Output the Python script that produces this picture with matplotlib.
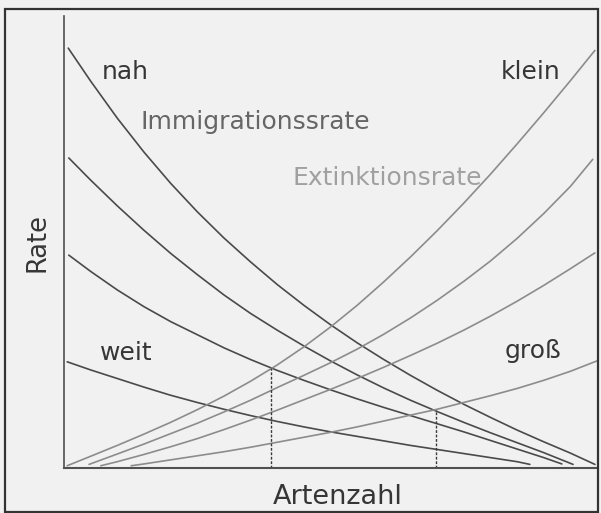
import matplotlib
matplotlib.use("Agg")
import matplotlib.pyplot as plt
from matplotlib.patches import Rectangle

# immigration curves (dark), from "nah" (top) to "weit" (bottom)
imm_nah_x = [0.8, 5, 10, 15, 20, 25, 30, 35, 40, 45, 50, 55, 60, 65, 70, 75, 80, 85, 90, 95, 99.6]
imm_nah_y = [92.9, 85.6, 77.4, 69.9, 63.0, 56.7, 50.9, 45.6, 40.6, 36.0, 31.7,
             27.7, 24.0, 20.5, 17.2, 14.1, 11.2, 8.4, 5.8, 3.3, 0.8]
imm_2_x = [0.9, 5, 10, 15, 20, 25, 30, 35, 40, 45, 50, 55, 60, 65, 70, 75, 80, 85, 90, 95.5]
imm_2_y = [68.6, 63.7, 58.0, 52.6, 47.5, 42.8, 38.3, 34.2, 30.5, 27.0, 23.7,
           20.6, 17.7, 15.0, 12.5, 10.1, 7.8, 5.6, 3.4, 0.8]
imm_3_x = [0.9, 5, 10, 15, 20, 25, 30, 35, 40, 45, 50, 55, 60, 65, 70, 75, 80, 85, 90, 93.4]
imm_3_y = [47.1, 43.5, 39.4, 35.7, 32.4, 29.5, 26.6, 24.0, 21.6, 19.4, 17.3,
           15.3, 13.4, 11.6, 9.8, 8.0, 6.1, 4.2, 2.3, 0.9]
imm_weit_x = [0.6, 5, 10, 15, 20, 25, 30, 35, 40, 45, 50, 55, 60, 65, 70, 75, 80, 85, 87.4]
imm_weit_y = [23.5, 21.7, 19.8, 17.9, 16.1, 14.5, 13.0, 11.6, 10.3, 9.1, 8.0,
              7.0, 6.0, 5.0, 4.1, 3.2, 2.3, 1.4, 0.8]

# extinction curves (light), from "klein" (top) to "groß" (bottom)
ext_klein_x = [0.6, 5, 10, 15, 20, 25, 30, 35, 40, 45, 50, 55, 60, 65, 70, 75, 80, 85, 90, 95, 99.6]
ext_klein_y = [0.5, 2.6, 5.0, 7.5, 10.1, 12.9, 15.9, 19.2, 22.8, 26.8, 31.2,
               36.0, 41.2, 46.7, 52.5, 58.6, 65.0, 71.7, 78.6, 85.7, 92.4]
ext_2_x = [4.7, 10, 15, 20, 25, 30, 35, 40, 45, 50, 55, 60, 65, 70, 75, 80, 85, 90, 95, 99.2]
ext_2_y = [0.8, 3.1, 5.3, 7.6, 9.9, 12.4, 15.0, 17.8, 20.5, 23.3, 26.3,
           29.6, 33.2, 37.1, 41.3, 45.8, 50.8, 56.3, 62.3, 68.3]
ext_3_x = [6.9, 10, 15, 20, 25, 30, 35, 40, 45, 50, 55, 60, 65, 70, 75, 80, 85, 90, 95, 99.6]
ext_3_y = [0.5, 1.4, 3.0, 4.7, 6.5, 8.5, 10.6, 12.8, 15.1, 17.4, 19.8,
           22.3, 24.9, 27.6, 30.5, 33.6, 36.9, 40.4, 44.1, 47.6]
ext_gross_x = [12.6, 15, 20, 25, 30, 35, 40, 45, 50, 55, 60, 65, 70, 75, 80, 85, 90, 95, 100]
ext_gross_y = [0.5, 0.9, 1.8, 2.7, 3.6, 4.6, 5.7, 6.8, 7.9, 9.1, 10.4,
               11.7, 13.0, 14.5, 16.0, 17.6, 19.4, 21.4, 23.7]

# equilibrium points (dashed drop lines)
eq_species = [38.8, 69.8]
eq_rate = [22.1, 12.8]

dark = "#4a4a4a"
light = "#8c8c8c"
txt = "#363636"

fig = plt.figure(figsize=(6.01, 5.13), dpi=100, facecolor="#f1f1f1")
fig.patches.append(Rectangle((0.009, 0.002), 0.986, 0.981, transform=fig.transFigure,
                             fill=False, edgecolor="#333333", linewidth=1.6))

ax = fig.add_axes([0.1065, 0.0877, 0.8869, 0.881])
ax.set_facecolor("none")

for xs, ys in [(imm_nah_x, imm_nah_y), (imm_2_x, imm_2_y),
               (imm_3_x, imm_3_y), (imm_weit_x, imm_weit_y)]:
    ax.plot(xs, ys, color=dark, lw=1.2, solid_capstyle="round", solid_joinstyle="round")

for xs, ys in [(ext_klein_x, ext_klein_y), (ext_2_x, ext_2_y),
               (ext_3_x, ext_3_y), (ext_gross_x, ext_gross_y)]:
    ax.plot(xs, ys, color=light, lw=1.2, solid_capstyle="round", solid_joinstyle="round")

for xe, ye in zip(eq_species, eq_rate):
    ax.plot([xe, xe], [0, ye], color="#3a3a3a", lw=1.0, ls=(0, (2, 1.2)))

ax.set_xlim(0, 100)
ax.set_ylim(0, 100)
ax.set_xticks([])
ax.set_yticks([])
for s in ["top", "right"]:
    ax.spines[s].set_visible(False)
ax.spines["left"].set_color("#505050")
ax.spines["bottom"].set_color("#505050")
ax.spines["left"].set_linewidth(1.2)
ax.spines["bottom"].set_linewidth(1.5)

fs = 18
ax.text(7.1, 86.1, "nah", color=txt, fontsize=fs, va="baseline", ha="left")
ax.text(93.2, 86.1, "klein", color=txt, fontsize=fs, va="baseline", ha="right")
ax.text(6.8, 23.9, "weit", color=txt, fontsize=fs, va="baseline", ha="left")
ax.text(93.4, 24.3, "groß", color=txt, fontsize=fs, va="baseline", ha="right")
ax.text(14.3, 75.0, "Immigrationssrate", color="#666666", fontsize=fs,
        va="baseline", ha="left")
ax.text(42.8, 62.6, "Extinktionsrate", color="#a0a0a0", fontsize=fs,
        va="baseline", ha="left")

ax.set_xlabel("Artenzahl", fontsize=19.5, color=txt, labelpad=10)
ax.xaxis.set_label_coords(0.514, -0.035, transform=ax.transAxes)
ax.xaxis.label.set_va("top")
ax.set_ylabel("Rate", fontsize=18.5, color=txt, labelpad=10)

fig.savefig("out.png", dpi=100, facecolor=fig.get_facecolor())
